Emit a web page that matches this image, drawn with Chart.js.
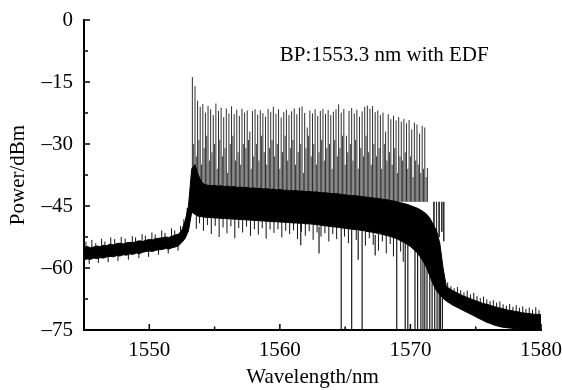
<!DOCTYPE html>
<html>
<head>
<meta charset="utf-8">
<title>BP:1553.3 nm with EDF</title>
<script src="https://cdn.jsdelivr.net/npm/chart.js@4.4.1/dist/chart.umd.min.js"></script>
<style>
  html, body { margin: 0; padding: 0; background: #fff; }
  #wrap { width: 562px; height: 390px; }
</style>
</head>
<body>
<div id="wrap"><canvas id="spectrum"></canvas></div>
<script>
// ---- data ----
const xTicks = [1550, 1560, 1570, 1580];
const xMinor = [1555, 1565, 1575];
const yTicks = [0, -15, -30, -45, -60, -75];
const yMinor = [-7.5, -22.5, -37.5, -52.5, -67.5];

// noise floor envelope (upper / lower edge of the dense trace)
const noiseWl = [
  1545.00, 1545.25, 1545.50, 1545.75, 1546.00, 1546.25, 1546.50, 1546.75,
  1547.00, 1547.25, 1547.50, 1547.75, 1548.00, 1548.25, 1548.50, 1548.75,
  1549.00, 1549.25, 1549.50, 1549.75, 1550.00, 1550.25, 1550.50, 1550.75,
  1551.00, 1551.25, 1551.50, 1551.75, 1552.00, 1552.25, 1552.50, 1552.75,
  1553.00, 1553.25, 1553.50, 1553.75, 1554.00, 1554.25, 1554.50, 1554.75,
  1555.00, 1555.25, 1555.50, 1555.75, 1556.00, 1556.25, 1556.50, 1556.75,
  1557.00, 1557.25, 1557.50, 1557.75, 1558.00, 1558.25, 1558.50, 1558.75,
  1559.00, 1559.25, 1559.50, 1559.75, 1560.00, 1560.25, 1560.50, 1560.75,
  1561.00, 1561.25, 1561.50, 1561.75, 1562.00, 1562.25, 1562.50, 1562.75,
  1563.00, 1563.25, 1563.50, 1563.75, 1564.00, 1564.25, 1564.50, 1564.75,
  1565.00, 1565.25, 1565.50, 1565.75, 1566.00, 1566.25, 1566.50, 1566.75,
  1567.00, 1567.25, 1567.50, 1567.75, 1568.00, 1568.25, 1568.50, 1568.75,
  1569.00, 1569.25, 1569.50, 1569.75, 1570.00, 1570.25, 1570.50, 1570.75,
  1571.00, 1571.25, 1571.50, 1571.75, 1572.00, 1572.25, 1572.50, 1572.75,
  1573.00, 1573.25, 1573.50, 1573.75, 1574.00, 1574.25, 1574.50, 1574.75,
  1575.00, 1575.25, 1575.50, 1575.75, 1576.00, 1576.25, 1576.50, 1576.75,
  1577.00, 1577.25, 1577.50, 1577.75, 1578.00, 1578.25, 1578.50, 1578.75,
  1579.00, 1579.25, 1579.50, 1579.75, 1580.00
];
const noiseHi = [
  -55.0, -54.8, -55.1, -54.9, -54.7, -54.8, -54.5, -54.6,
  -54.2, -54.4, -54.1, -54.0, -54.2, -53.9, -53.8, -53.9,
  -53.6, -53.4, -53.6, -53.3, -53.1, -53.2, -52.9, -52.8,
  -52.7, -52.5, -52.6, -52.3, -52.0, -51.8, -50.8, -48.6,
  -45.0, -36.0, -35.0, -37.5, -39.2, -39.8, -40.0, -40.1,
  -40.0, -40.2, -40.1, -40.3, -40.2, -40.4, -40.3, -40.5,
  -40.4, -40.6, -40.5, -40.7, -40.6, -40.8, -40.7, -40.9,
  -40.8, -41.0, -40.9, -41.1, -41.0, -41.2, -41.2, -41.3,
  -41.3, -41.3, -41.4, -41.4, -41.5, -41.5, -41.6, -41.6,
  -41.7, -41.8, -41.8, -41.9, -42.0, -42.0, -42.1, -42.2,
  -42.3, -42.4, -42.5, -42.5, -42.6, -42.7, -42.8, -42.9,
  -43.0, -43.1, -43.2, -43.3, -43.4, -43.5, -43.7, -43.8,
  -44.0, -44.2, -44.4, -44.6, -44.9, -45.2, -45.5, -45.9,
  -46.4, -47.0, -48.0, -49.5, -51.0, -54.0, -60.0, -64.5,
  -65.0, -65.5, -65.9, -66.3, -66.7, -67.0, -67.3, -67.6,
  -67.9, -68.2, -68.5, -68.7, -68.9, -69.2, -69.4, -69.6,
  -69.8, -70.0, -70.2, -70.3, -70.5, -70.6, -70.8, -70.9,
  -71.0, -71.1, -71.2, -71.2, -71.3
];
const noiseLo = [
  -58.0, -57.8, -57.9, -57.6, -57.7, -57.5, -57.6, -57.3,
  -57.2, -57.3, -57.0, -57.1, -56.8, -56.9, -56.6, -56.7,
  -56.4, -56.5, -56.2, -56.0, -55.9, -56.0, -55.7, -55.6,
  -55.5, -55.3, -55.4, -55.1, -54.9, -54.6, -53.8, -52.8,
  -51.0, -46.5, -47.0, -47.5, -47.6, -47.7, -47.8, -47.8,
  -47.9, -47.9, -48.0, -48.0, -48.1, -48.1, -48.2, -48.2,
  -48.3, -48.3, -48.4, -48.4, -48.5, -48.5, -48.6, -48.6,
  -48.7, -48.7, -48.8, -48.8, -48.9, -48.9, -49.0, -49.0,
  -49.1, -49.1, -49.2, -49.2, -49.3, -49.3, -49.4, -49.5,
  -49.6, -49.7, -49.8, -49.9, -50.0, -50.1, -50.2, -50.3,
  -50.4, -50.5, -50.6, -50.7, -50.8, -50.9, -51.0, -51.2,
  -51.3, -51.5, -51.6, -51.8, -52.0, -52.2, -52.4, -52.7,
  -53.0, -53.4, -53.8, -54.3, -54.8, -55.5, -56.3, -57.3,
  -58.5, -60.0, -62.0, -64.0, -65.5, -66.5, -67.3, -68.0,
  -68.5, -69.0, -69.4, -69.8, -70.2, -70.6, -71.0, -71.4,
  -71.8, -72.2, -72.6, -73.0, -73.3, -73.6, -73.9, -74.1,
  -74.3, -74.4, -74.5, -74.6, -74.7, -74.8, -74.8, -74.9,
  -74.9, -74.9, -75.0, -75.0, -75.0
];

// short noise hairs sticking out of the floor: wavelength, lower and upper end
const hairWl = [
  1545.15, 1545.40, 1545.60, 1545.90, 1546.10, 1546.35, 1546.60, 1546.85, 1547.05, 1547.35,
  1547.60, 1547.85, 1548.15, 1548.40, 1548.70, 1548.95, 1549.20, 1549.45, 1549.70, 1549.95,
  1550.20, 1550.45, 1550.70, 1550.95, 1551.20, 1551.45, 1551.70, 1551.95, 1552.20, 1552.40,
  1552.65, 1552.90,
  1553.60, 1553.85, 1554.15, 1554.45, 1554.75, 1555.05, 1555.35, 1555.65, 1555.95, 1556.25,
  1556.55, 1556.85, 1557.15, 1557.45, 1557.75, 1558.05, 1558.35, 1558.65, 1558.95, 1559.25,
  1559.55, 1559.85, 1560.15, 1560.45, 1560.75, 1561.05, 1561.35, 1561.65, 1561.95, 1562.25,
  1562.55, 1562.85, 1563.15, 1563.45, 1563.75, 1564.05, 1564.35, 1564.95, 1565.25, 1565.85,
  1566.55, 1566.85, 1567.15, 1567.55, 1567.85, 1568.15, 1568.45, 1568.70, 1569.25, 1569.45,
  1572.85, 1573.10, 1573.35, 1573.60, 1573.85, 1574.10, 1574.35, 1574.60, 1574.85, 1575.10,
  1575.35, 1575.60, 1575.85, 1576.10, 1576.35, 1576.60, 1576.85, 1577.10, 1577.35, 1577.60,
  1577.85, 1578.10, 1578.35, 1578.60, 1578.85, 1579.10, 1579.35, 1579.60, 1579.85
];
const hairLo = [
  -57.0, -59.0, -57.0, -57.0, -58.8, -56.5, -56.5, -58.6, -56.0, -56.0,
  -58.3, -56.0, -55.5, -58.0, -55.5, -55.5, -57.6, -55.0, -55.0, -57.3,
  -54.8, -54.8, -56.8, -54.5, -54.5, -56.5, -54.0, -54.0, -55.8, -53.5,
  -53.0, -51.5,
  -50.5, -49.2, -51.0, -49.6, -51.8, -49.8, -52.5, -50.2, -51.6, -49.9,
  -52.8, -50.3, -51.4, -50.0, -52.2, -50.6, -51.9, -50.4, -52.9, -50.7,
  -51.5, -50.6, -52.6, -51.0, -51.8, -50.9, -53.0, -51.2, -52.2, -51.1,
  -53.2, -51.4, -52.4, -51.6, -53.6, -51.8, -53.0, -52.4, -54.0, -53.2,
  -54.6, -52.8, -54.4, -55.8, -53.6, -56.5, -54.2, -57.2, -56.0, -58.5,
  -67.0, -67.0, -67.5, -68.0, -68.0, -68.5, -68.5, -69.0, -69.0, -69.5,
  -70.0, -70.0, -70.5, -70.5, -71.0, -71.0, -71.5, -71.5, -72.0, -72.0,
  -72.0, -72.5, -72.5, -73.0, -73.0, -73.0, -73.0, -73.0, -73.0
];
const hairHi = [
  -53.6, -56.0, -53.2, -54.0, -56.0, -52.9, -53.6, -55.5, -52.6, -53.0,
  -55.5, -52.5, -52.9, -55.0, -52.3, -52.6, -54.5, -51.8, -52.2, -54.5,
  -51.4, -51.9, -54.0, -50.9, -51.5, -53.5, -50.4, -50.9, -53.0, -49.8,
  -48.2, -45.5,
  -47.0, -47.0, -47.0, -47.0, -47.0, -47.0, -47.5, -47.5, -47.5, -47.5,
  -48.0, -48.0, -48.0, -48.0, -48.0, -48.0, -48.0, -48.5, -48.5, -48.5,
  -48.5, -48.5, -48.5, -48.5, -48.5, -49.0, -49.0, -49.0, -49.0, -49.0,
  -49.0, -49.0, -49.5, -49.5, -49.5, -49.5, -50.0, -50.0, -50.0, -50.5,
  -50.5, -50.5, -51.0, -51.0, -51.0, -51.5, -51.5, -52.0, -53.0, -53.0,
  -63.5, -64.4, -64.9, -64.6, -65.4, -65.9, -65.5, -66.4, -66.0, -66.8,
  -67.3, -66.9, -67.6, -68.0, -67.8, -68.4, -68.1, -68.8, -69.1, -68.7,
  -69.4, -69.0, -69.6, -69.3, -69.9, -69.6, -70.1, -69.5, -70.2
];

// laser comb lines: wavelength and peak power
const combWl = [
  1553.3, 1553.5, 1553.7, 1553.9, 1554.1, 1554.3, 1554.5, 1554.7, 1554.9, 1555.1,
  1555.3, 1555.5, 1555.7, 1555.9, 1556.1, 1556.3, 1556.5, 1556.7, 1556.9, 1557.1,
  1557.3, 1557.5, 1557.7, 1557.9, 1558.1, 1558.3, 1558.5, 1558.7, 1558.9, 1559.1,
  1559.3, 1559.5, 1559.7, 1559.9, 1560.1, 1560.3, 1560.5, 1560.7, 1560.9, 1561.1,
  1561.3, 1561.5, 1561.7, 1561.9, 1562.1, 1562.3, 1562.5, 1562.7, 1562.9, 1563.1,
  1563.3, 1563.5, 1563.7, 1563.9, 1564.1, 1564.3, 1564.5, 1564.7, 1564.9, 1565.1,
  1565.3, 1565.5, 1565.7, 1565.9, 1566.1, 1566.3, 1566.5, 1566.7, 1566.9, 1567.1,
  1567.3, 1567.5, 1567.7, 1567.9, 1568.1, 1568.3, 1568.5, 1568.7, 1568.9, 1569.1,
  1569.3, 1569.5, 1569.7, 1569.9, 1570.1, 1570.3, 1570.5, 1570.7, 1570.9, 1571.1,
  1571.3, 1571.55, 1571.8, 1572.0, 1572.2, 1572.4, 1572.55
];
const combTop = [
  -13.8, -16.0, -19.5, -21.0, -20.3, -22.4, -20.8, -21.6, -23.0, -20.2,
  -22.0, -21.2, -23.5, -21.4, -22.6, -20.9, -22.8, -21.7, -23.2, -21.5,
  -22.4, -21.9, -27.0, -22.0, -21.6, -22.9, -21.8, -22.5, -23.4, -21.5,
  -22.2, -21.0, -22.7, -21.6, -23.6, -22.3, -21.7, -23.0, -22.1, -21.4,
  -22.8, -21.2, -20.9, -22.5, -26.0, -21.9, -22.6, -21.6, -23.2, -22.0,
  -21.5, -22.7, -21.8, -23.0, -22.2, -21.6, -20.4, -22.4, -21.5, -28.0,
  -22.0, -21.3, -22.6, -21.7, -23.4, -22.1, -21.0, -20.7, -21.5, -20.8,
  -22.3, -21.9, -23.0, -22.4, -27.0, -22.8, -24.0, -23.2, -24.3, -23.5,
  -24.6, -23.9, -25.0, -24.2, -26.5, -24.8, -25.3, -27.5, -25.6, -26.0,
  -35.8, -44.0, -50.0, -51.5, -52.5, -51.2, -53.5
];
// weaker lines in between the main comb
const comb2Wl = [
  1553.4, 1553.6, 1553.8, 1554.0, 1554.2, 1554.4, 1554.6, 1554.8, 1555.0, 1555.2,
  1555.4, 1555.6, 1555.8, 1556.0, 1556.2, 1556.4, 1556.6, 1556.8, 1557.0, 1557.2,
  1557.4, 1557.6, 1557.8, 1558.0, 1558.2, 1558.4, 1558.6, 1558.8, 1559.0, 1559.2,
  1559.4, 1559.6, 1559.8, 1560.0, 1560.2, 1560.4, 1560.6, 1560.8, 1561.0, 1561.2,
  1561.4, 1561.6, 1561.8, 1562.0, 1562.2, 1562.4, 1562.6, 1562.8, 1563.0, 1563.2,
  1563.4, 1563.6, 1563.8, 1564.0, 1564.2, 1564.4, 1564.6, 1564.8, 1565.0, 1565.2,
  1565.4, 1565.6, 1565.8, 1566.0, 1566.2, 1566.4, 1566.6, 1566.8, 1567.0, 1567.2,
  1567.4, 1567.6, 1567.8, 1568.0, 1568.2, 1568.4, 1568.6, 1568.8, 1569.0, 1569.2,
  1569.4, 1569.6, 1569.8, 1570.0, 1570.2, 1570.4, 1570.6, 1570.8, 1571.0, 1571.2
];
const comb2Top = [
  -30, -33, -29, -35, -31, -28, -34, -32, -30, -36,
  -29, -33, -31, -37, -30, -28, -34, -32, -35, -30,
  -31, -29, -36, -33, -30, -34, -28, -32, -35, -31,
  -29, -33, -30, -36, -32, -28, -34, -31, -29, -35,
  -32, -30, -37, -31, -28, -33, -30, -35, -32, -29,
  -34, -31, -30, -36, -29, -33, -31, -28, -35, -32,
  -30, -34, -29, -36, -31, -33, -28, -32, -35, -30,
  -33, -31, -36, -30, -34, -32, -35, -31, -37, -33,
  -34, -32, -36, -33, -38, -34, -35, -37, -36, -38
];
const combFloor = -44;

// deep dropouts below the floor
const dipWl = [1561.6, 1563.0, 1564.7, 1565.5, 1566.0, 1566.3, 1567.3, 1568.95, 1569.6, 1569.8,
  1570.35, 1570.55, 1570.8, 1570.96, 1571.1, 1571.27, 1571.48, 1571.66, 1571.86, 1572.04,
  1572.2, 1572.3, 1572.45];
const dipHi = [-49, -50, -49, -50, -51, -51, -52, -52, -53, -54,
  -55, -56, -57, -58, -58, -60, -61, -62, -63, -64,
  -65, -65, -66];
const dipLo = [-54.5, -56.5, -75, -75, -58, -75, -57, -75, -75, -75,
  -75, -75, -75, -75, -75, -75, -75, -75, -75, -75,
  -75, -75, -75];

// ---- build the traces ----
const stems = (xs, lo, hi) => xs.flatMap((w, i) => [
  { x: w, y: Array.isArray(lo) ? lo[i] : lo },
  { x: w, y: hi[i] },
  { x: w, y: null }
]);

const FONT = "'Liberation Serif', 'Times New Roman', serif";

const axisMarks = {
  id: 'axisMarks',
  afterDraw(chart) {
    const { ctx, chartArea: a, scales: { x, y } } = chart;
    ctx.save();
    ctx.strokeStyle = '#000';
    ctx.lineWidth = 1.5;
    const tick = (x0, y0, x1, y1) => { ctx.beginPath(); ctx.moveTo(x0, y0); ctx.lineTo(x1, y1); ctx.stroke(); };
    xTicks.forEach(v => { const p = x.getPixelForValue(v); tick(p, a.bottom, p, a.bottom - 6); });
    xMinor.forEach(v => { const p = x.getPixelForValue(v); tick(p, a.bottom, p, a.bottom - 3.5); });
    yTicks.forEach(v => { const p = y.getPixelForValue(v); tick(a.left, p, a.left + 6, p); });
    yMinor.forEach(v => { const p = y.getPixelForValue(v); tick(a.left, p, a.left + 4, p); });
    ctx.fillStyle = '#000';
    ctx.font = '21px ' + FONT;
    ctx.textBaseline = 'alphabetic';
    ctx.fillText('BP:1553.3 nm with EDF', x.getPixelForValue(1560), y.getPixelForValue(-9.9));
    ctx.restore();
  }
};

const stem = (data, color, width) => ({ data, borderColor: color, borderWidth: width, pointRadius: 0, spanGaps: false, fill: false });

new Chart(document.getElementById('spectrum'), {
  type: 'line',
  data: {
    datasets: [
      { data: noiseWl.map((w, i) => ({ x: w, y: noiseHi[i] })), borderColor: '#000', borderWidth: 1, pointRadius: 0, fill: false },
      { data: noiseWl.map((w, i) => ({ x: w, y: noiseLo[i] })), borderColor: '#000', borderWidth: 1, pointRadius: 0,
        fill: '-1', backgroundColor: '#000' },
      stem(stems(hairWl, hairLo, hairHi), '#111', 1),
      stem(stems(comb2Wl, combFloor, comb2Top), '#3c3c3c', 1),
      stem(stems(combWl, combFloor, combTop), '#303030', 1),
      stem(stems(dipWl, dipLo, dipHi), '#1a1a1a', 1.2)
    ]
  },
  options: {
    responsive: true,
    maintainAspectRatio: false,
    animation: false,
    devicePixelRatio: 1,
    layout: { padding: { top: 20, right: 21, left: 0, bottom: 0 } },
    plugins: { legend: { display: false }, tooltip: { enabled: false } },
    elements: { line: { tension: 0 } },
    scales: {
      x: {
        type: 'linear', min: 1545, max: 1580,
        afterBuildTicks: s => { s.ticks = xTicks.map(v => ({ value: v })); },
        afterFit: s => { s.height = 60; s.paddingLeft = 0; s.paddingRight = 0; },
        grid: { display: false, drawTicks: false },
        border: { display: true, color: '#000', width: 2 },
        ticks: { color: '#000', font: { family: FONT, size: 21 }, padding: 8, maxRotation: 0,
          callback: v => String(v) },
        title: { display: true, text: 'Wavelength/nm', color: '#000', font: { family: FONT, size: 21 }, padding: { top: 4, bottom: 0 } }
      },
      y: {
        type: 'linear', min: -75, max: 0,
        afterBuildTicks: s => { s.ticks = yTicks.map(v => ({ value: v })); },
        afterFit: s => { s.width = 84; s.paddingTop = 0; s.paddingBottom = 0; },
        grid: { display: false, drawTicks: false },
        border: { display: true, color: '#000', width: 2 },
        ticks: { color: '#000', font: { family: FONT, size: 21 }, padding: 11,
          callback: v => v < 0 ? '\u2013' + Math.abs(v) : String(v) },
        title: { display: true, text: 'Power/dBm', color: '#000', font: { family: FONT, size: 21 }, padding: { top: 6, bottom: 0 } }
      }
    }
  },
  plugins: [axisMarks]
});
</script>
</body>
</html>
